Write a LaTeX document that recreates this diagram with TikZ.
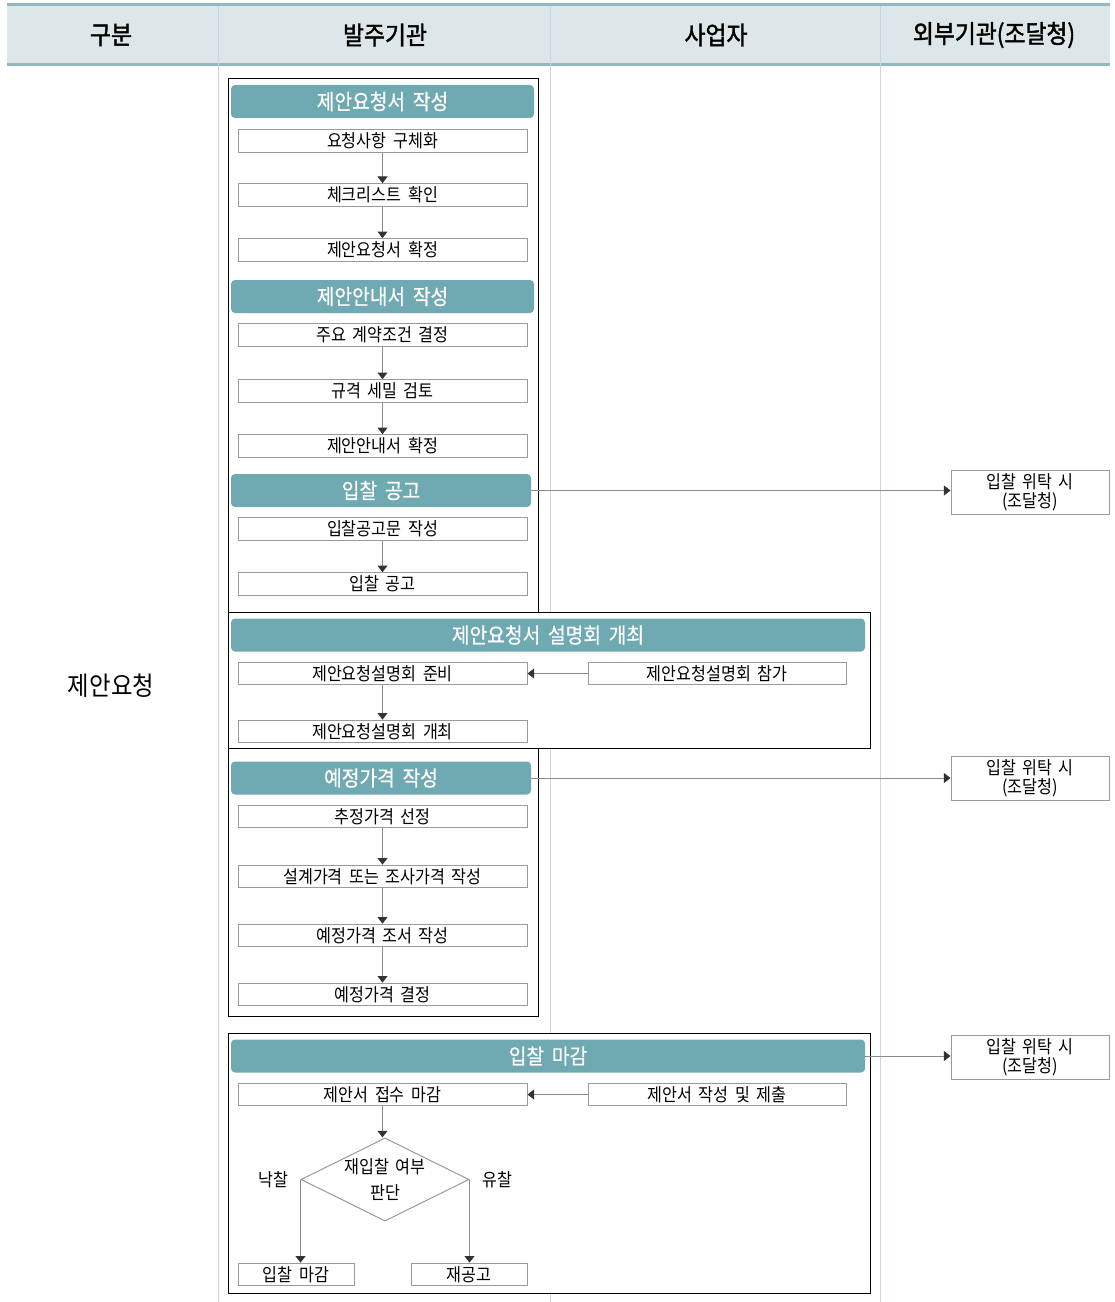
\documentclass[tikz,border=0pt]{standalone}
\usepackage{fontspec}
\setmainfont[FakeStretch=0.9,WordSpace=1.8]{Noto Sans CJK KR}
\newfontfamily\hdrfont[FakeStretch=0.9,WordSpace=1.8,FakeBold=1.6]{Noto Sans CJK KR}
\newfontfamily\tealfont[FakeStretch=0.9,WordSpace=1.8,FakeBold=0.6]{Noto Sans CJK KR}
\usetikzlibrary{arrows.meta,shapes.geometric}
\definecolor{hdrfill}{HTML}{DDE6E8}
\definecolor{hdrline}{HTML}{93B8BF}
\definecolor{divline}{HTML}{C8D8DC}
\definecolor{tealbar}{HTML}{6FA9B1}
\definecolor{boxline}{HTML}{9A9A9A}
\definecolor{arrline}{HTML}{8A8A8A}
\definecolor{tipc}{HTML}{333333}
\begin{document}
\begin{tikzpicture}[x=0.75pt,y=-0.75pt,
  bodyfont/.style={font=\fontsize{13.5}{14.5}\selectfont},
  stepbox/.style={draw=boxline, fill=white, line width=0.75pt, minimum width=216.75pt, minimum height=17pt, inner sep=0pt, bodyfont},
  sidebox/.style={stepbox, minimum width=193.5pt},
  smallbox/.style={stepbox, minimum width=87pt},
  extbox/.style={draw=boxline, fill=white, line width=0.75pt, minimum width=118.5pt, minimum height=33pt, inner sep=0pt, align=center, bodyfont},
  tealn/.style={fill=tealbar, rounded corners=3pt, text=white, minimum height=24.75pt, inner sep=0pt, font=\tealfont\fontsize{16}{18}\selectfont, minimum width=227.25pt},
  tealnb/.style={tealn, minimum width=225pt},
  tealw/.style={tealn, minimum width=475.5pt},
  group/.style={draw=black, fill=white, line width=0.75pt},
  hdr/.style={font=\hdrfont\fontsize{19}{21}\selectfont},
  arr/.style={draw=arrline, line width=0.75pt, -{Triangle[length=5pt,width=7.5pt,color=tipc]}},
  lbl/.style={bodyfont, inner sep=0pt}]
\useasboundingbox (0,0) rectangle (1114,1302);
% header band
\fill[hdrfill] (7,5) rectangle (1110,65);
\draw[hdrline, line width=2.25pt] (7,5) -- (1110,5);
\draw[hdrline, line width=2.25pt] (7,65) -- (1110,65);
% column dividers
\foreach \xx in {218,550,880} \draw[divline, line width=0.75pt] (\xx,6) -- (\xx,1302);
\node[hdr] (h1) at (111,35) {구분};
\node[hdr] (h2) at (385,35) {발주기관};
\node[hdr] (h3) at (716,35) {사업자};
\node[hdr] (h4) at (994,35) {외부기관(조달청)};
\node[font=\fontsize{19.5}{21}\selectfont] (sect) at (111,686) {제안요청};
% group boxes
\draw[group] (228,79) rectangle (538,612);
\draw[group] (228,612) rectangle (870,748);
\draw[group] (228,748) rectangle (538,1016);
\draw[group] (228,1033) rectangle (870,1293);
% block 1
\node[tealn] (t1) at (382.5,101.5) {제안요청서 작성};
\node[stepbox] (a1) at (382.5,141) {요청사항 구체화};
\node[stepbox] (a2) at (382.5,195) {체크리스트 확인};
\node[stepbox] (a3) at (382.5,250) {제안요청서 확정};
\draw[arr] (a1.south) -- (a2.north);
\draw[arr] (a2.south) -- (a3.north);
% block 2
\node[tealn] (t2) at (382.5,296.5) {제안안내서 작성};
\node[stepbox] (b1) at (382.5,335) {주요 계약조건 결정};
\node[stepbox] (b2) at (382.5,391) {규격 세밀 검토};
\node[stepbox] (b3) at (382.5,446) {제안안내서 확정};
\draw[arr] (b1.south) -- (b2.north);
\draw[arr] (b2.south) -- (b3.north);
% block 3
\node[tealnb] (t3) at (381,490.5) {입찰 공고};
\node[stepbox] (c1) at (382.5,529) {입찰공고문 작성};
\node[stepbox] (c2) at (382.5,584) {입찰 공고};
\draw[arr] (c1.south) -- (c2.north);
\node[extbox] (e1) at (1030,492) {입찰 위탁 시\\(조달청)};
\draw[arr] (t3.east) -- (t3.east -| e1.west);
% block 4
\node[tealw] (t4) at (548,635) {제안요청서 설명회 개최};
\node[stepbox] (d1) at (382.5,673.5) {제안요청설명회 준비};
\node[sidebox] (d2) at (717,673.5) {제안요청설명회 참가};
\node[stepbox] (d3) at (382.5,731.5) {제안요청설명회 개최};
\draw[arr] (d2.west) -- (d1.east);
\draw[arr] (d1.south) -- (d3.north);
% block 5
\node[tealnb] (t5) at (381,778) {예정가격 작성};
\node[stepbox] (f1) at (382.5,816.5) {추정가격 선정};
\node[stepbox] (f2) at (382.5,876.5) {설계가격 또는 조사가격 작성};
\node[stepbox] (f3) at (382.5,935.5) {예정가격 조서 작성};
\node[stepbox] (f4) at (382.5,994.5) {예정가격 결정};
\draw[arr] (f1.south) -- (f2.north);
\draw[arr] (f2.south) -- (f3.north);
\draw[arr] (f3.south) -- (f4.north);
\node[extbox] (e2) at (1030,778) {입찰 위탁 시\\(조달청)};
\draw[arr] (t5.east) -- (e2.west);
% block 6
\node[tealw] (t6) at (548,1056) {입찰 마감};
\node[stepbox] (g1) at (382.5,1094.5) {제안서 접수 마감};
\node[sidebox] (g2) at (717,1094.5) {제안서 작성 및 제출};
\draw[arr] (g2.west) -- (g1.east);
\node[draw=boxline, fill=white, line width=0.75pt, diamond, aspect=2, minimum width=126pt, minimum height=62.25pt, inner sep=0pt, align=center, font=\fontsize{13.5}{20}\selectfont] (dia) at (385,1179.5) {재입찰 여부\\판단};
\draw[arr] (g1.south) -- (dia.north -| g1.south);
\node[smallbox] (g3) at (296,1274.5) {입찰 마감};
\node[smallbox] (g4) at (469,1274.5) {재공고};
\draw[arr] (dia.west) -- (dia.west |- g3.north);
\draw[arr] (dia.east) -- (dia.east |- g4.north);
\node[lbl] (l1) at (273,1180) {낙찰};
\node[lbl] (l2) at (497,1180) {유찰};
\node[extbox] (e3) at (1030,1057.5) {입찰 위탁 시\\(조달청)};
\draw[arr] (t6.east) -- (t6.east -| e3.west);
\end{tikzpicture}
\end{document}
